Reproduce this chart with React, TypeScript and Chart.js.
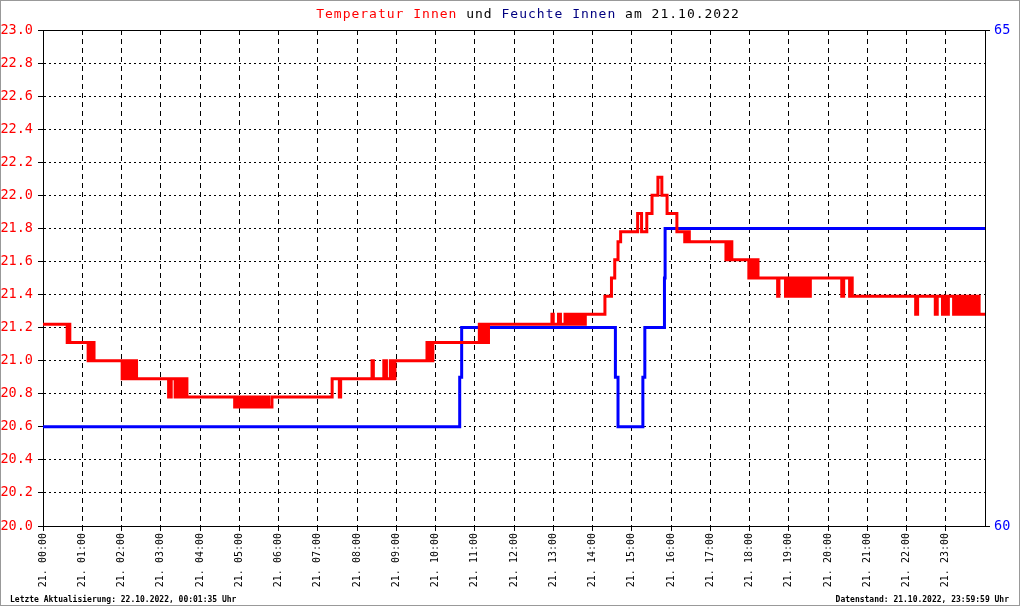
import { useEffect, useRef } from "react";
import { Chart, registerables } from "chart.js";

Chart.register(...registerables);

// ---- data ----
const DAY = "21.";
const HOURS = ["00","01","02","03","04","05","06","07","08","09","10","11","12","13","14","15","16","17","18","19","20","21","22","23"];

const tempTimes = [
  "00:00","00:37","00:39","00:41",
  "01:09","01:11","01:13","01:14","01:16","01:17","01:18",
  "02:01","02:03","02:06","02:07","02:09","02:10","02:13","02:14","02:15","02:17","02:18","02:20","02:23",
  "03:12","03:14","03:15","03:16","03:22","03:23","03:25","03:26","03:28","03:29","03:31","03:32","03:34","03:35","03:37","03:38","03:40",
  "04:53","04:55","04:56","04:59","05:00","05:03","05:04","05:07","05:08","05:12","05:13","05:16","05:17","05:21","05:22","05:25","05:26","05:29","05:31","05:35","05:36","05:40","05:41","05:44","05:45","05:50",
  "07:22","07:33","07:35",
  "08:23","08:25","08:41","08:42","08:44","08:45","08:51","08:53","08:54","08:56","08:58",
  "09:47","09:48","09:50","09:51","09:53","09:54","09:56",
  "11:07","11:08","11:10","11:11","11:13","11:14","11:16","11:17","11:19","11:20","11:21",
  "12:58","13:00","13:08","13:11","13:18","13:20","13:21","13:23","13:25","13:27","13:28","13:30","13:32","13:34","13:35","13:37","13:39","13:40","13:42","13:44","13:45","13:47","13:49",
  "14:19","14:29","14:34","14:39","14:43",
  "15:09","15:15","15:23","15:31","15:40","15:46","15:54",
  "16:09","16:21","16:23","16:24","16:26","16:28",
  "17:24","17:26","17:27","17:29","17:30","17:32","17:33",
  "17:59","18:01","18:03","18:05","18:06","18:08","18:10","18:11","18:13",
  "18:43","18:45","18:55","18:57","18:58","19:00","19:01","19:03","19:05","19:08","19:09","19:11","19:12","19:14","19:15","19:17","19:20","19:22","19:23","19:25","19:27","19:29","19:30","19:33",
  "20:21","20:24","20:33","20:35","20:37",
  "22:14","22:17","22:44","22:47","22:55","22:57","23:01","23:04",
  "23:12","23:14","23:15","23:17","23:18","23:20","23:21","23:23","23:24","23:26","23:27","23:29","23:30","23:32","23:33","23:35","23:36","23:38","23:39","23:41","23:42","23:44","23:45","23:47","23:48","23:50","23:51",
  "24:00",
];

const tempValues = [
  21.22,21.11,21.22,21.11,
  21.0,21.11,21.0,21.11,21.0,21.11,21.0,
  20.89,21.0,20.89,21.0,20.89,21.0,20.89,21.0,20.89,21.0,20.89,21.0,20.89,
  20.78,20.89,20.78,20.89,20.78,20.89,20.78,20.89,20.78,20.89,20.78,20.89,20.78,20.89,20.78,20.89,20.78,
  20.72,20.78,20.72,20.78,20.72,20.78,20.72,20.78,20.72,20.78,20.72,20.78,20.72,20.78,20.72,20.78,20.72,20.78,20.72,20.78,20.72,20.78,20.72,20.78,20.72,20.78,
  20.89,20.78,20.89,
  21.0,20.89,21.0,20.89,21.0,20.89,21.0,20.89,21.0,20.89,21.0,
  21.11,21.0,21.11,21.0,21.11,21.0,21.11,
  21.22,21.11,21.22,21.11,21.22,21.11,21.22,21.11,21.22,21.11,21.22,
  21.28,21.22,21.28,21.22,21.28,21.22,21.28,21.22,21.28,21.22,21.28,21.22,21.28,21.22,21.28,21.22,21.28,21.22,21.28,21.22,21.28,21.22,21.28,
  21.39,21.5,21.61,21.72,21.78,
  21.89,21.78,21.89,22.0,22.11,22.0,21.89,
  21.78,21.72,21.78,21.72,21.78,21.72,
  21.61,21.72,21.61,21.72,21.61,21.72,21.61,
  21.5,21.61,21.5,21.61,21.5,21.61,21.5,21.61,21.5,
  21.39,21.5,21.39,21.5,21.39,21.5,21.39,21.5,21.39,21.5,21.39,21.5,21.39,21.5,21.39,21.5,21.39,21.5,21.39,21.5,21.39,21.5,21.39,21.5,
  21.39,21.5,21.39,21.5,21.39,
  21.28,21.39,21.28,21.39,21.28,21.39,21.28,21.39,
  21.28,21.39,21.28,21.39,21.28,21.39,21.28,21.39,21.28,21.39,21.28,21.39,21.28,21.39,21.28,21.39,21.28,21.39,21.28,21.39,21.28,21.39,21.28,21.39,21.28,21.39,21.28,
  21.28,
];

const humTimes = ["00:00","10:37","10:40","14:35","14:39","15:17","15:20","15:50","15:51","24:00"];
const humValues = [61, 61.5, 62, 61.5, 61, 61.5, 62, 62.5, 63, 63];

const TEMP_TICKS = { min: 20, max: 23, step: 0.2 };
const HUM_TICKS = { min: 60, max: 65, step: 5 };

const TITLE_PARTS = [
  { text: "Temperatur Innen", color: "#ff0000" },
  { text: " und ", color: "#000000" },
  { text: "Feuchte Innen", color: "#000080" },
  { text: " am 21.10.2022", color: "#000000" },
];
const FOOT_LEFT = "Letzte Aktualisierung: 22.10.2022, 00:01:35 Uhr";
const FOOT_RIGHT = "Datenstand: 21.10.2022, 23:59:59 Uhr";

const MONO = "'DejaVu Sans Mono', 'Liberation Mono', monospace";

function toMin(s: string): number {
  const [h, m] = s.split(":").map(Number);
  return h * 60 + m;
}

const decorPlugin = {
  id: "decor",
  afterDraw(chart: any) {
    const ctx: CanvasRenderingContext2D = chart.ctx;
    const a = chart.chartArea;
    ctx.save();
    // top frame line of plot
    ctx.strokeStyle = "#000";
    ctx.lineWidth = 1;
    ctx.setLineDash([]);
    ctx.beginPath();
    ctx.moveTo(Math.round(a.left), Math.round(a.top) + 0.5);
    ctx.lineTo(Math.round(a.right) + 1, Math.round(a.top) + 0.5);
    ctx.stroke();
    // outer gray frame
    ctx.strokeStyle = "#999999";
    ctx.strokeRect(0.5, 0.5, chart.width - 1, chart.height - 1);
    // title
    ctx.font = `13px ${MONO}`;
    (ctx as any).letterSpacing = "1px";
    ctx.textAlign = "left";
    ctx.textBaseline = "alphabetic";
    let total = 0;
    for (const p of TITLE_PARTS) total += ctx.measureText(p.text).width;
    let x = 528 - total / 2;
    for (const p of TITLE_PARTS) {
      ctx.fillStyle = p.color;
      ctx.fillText(p.text, x, 18);
      x += ctx.measureText(p.text).width;
    }
    // footer
    (ctx as any).letterSpacing = "0px";
    ctx.font = `bold 8px ${MONO}`;
    ctx.fillStyle = "#000";
    ctx.textAlign = "left";
    ctx.fillText(FOOT_LEFT, 10, 602);
    ctx.textAlign = "right";
    ctx.fillText(FOOT_RIGHT, 1009, 602);
    ctx.restore();
  },
};

export default function App() {
  const ref = useRef<HTMLCanvasElement | null>(null);

  useEffect(() => {
    document.body.style.margin = "0";
    const canvas = ref.current;
    if (!canvas) return;
    const chart = new Chart(canvas, {
      type: "line",
      data: {
        datasets: [
          {
            label: "Temperatur Innen",
            data: tempTimes.map((t, i) => ({ x: toMin(t), y: tempValues[i] })),
            borderColor: "#ff0000",
            backgroundColor: "#ff0000",
            borderWidth: 3,
            stepped: true,
            pointRadius: 0,
            fill: false,
            yAxisID: "y",
          },
          {
            label: "Feuchte Innen",
            data: humTimes.map((t, i) => ({ x: toMin(t), y: humValues[i] })),
            borderColor: "#0000ff",
            backgroundColor: "#0000ff",
            borderWidth: 3,
            stepped: true,
            pointRadius: 0,
            fill: false,
            yAxisID: "y1",
          },
        ],
      },
      options: {
        responsive: false,
        animation: false,
        devicePixelRatio: 1,
        events: [],
        layout: { padding: { top: 30, left: 0, right: 0, bottom: 0 } },
        plugins: {
          legend: { display: false },
          title: { display: false },
          tooltip: { enabled: false },
        },
        scales: {
          x: {
            type: "linear",
            min: 0,
            max: 1440,
            afterFit: (s: any) => { s.height = 80; },
            afterBuildTicks: (s: any) => { s.ticks = s.ticks.filter((t: any) => t.value < 1440); },
            ticks: {
              stepSize: 60,
              autoSkip: false,
              minRotation: 90,
              maxRotation: 90,
              padding: 2,
              color: "#000",
              font: { family: MONO, size: 10 },
              callback: (v: any) => {
                const h = Math.round(Number(v) / 60);
                return h < 24 ? `${DAY} ${HOURS[h]}:00` : "";
              },
            },
            grid: { color: "#000", lineWidth: 1, tickLength: 5, tickColor: "#000" },
            border: { color: "#000", dash: [5, 4] },
          },
          y: {
            position: "left",
            min: TEMP_TICKS.min,
            max: TEMP_TICKS.max,
            afterFit: (s: any) => { s.width = 43; },
            ticks: {
              stepSize: TEMP_TICKS.step,
              color: "#ff0000",
              padding: 5,
              font: { family: MONO, size: 13.5 },
              callback: (v: any) => Number(v).toFixed(1),
            },
            grid: { color: "#000", lineWidth: 1, tickLength: 5, tickColor: "#000" },
            border: { color: "#000", dash: [2, 3] },
          },
          y1: {
            position: "right",
            min: HUM_TICKS.min,
            max: HUM_TICKS.max,
            afterFit: (s: any) => { s.width = 35; },
            ticks: {
              stepSize: HUM_TICKS.step,
              color: "#0000ff",
              padding: 4,
              font: { family: MONO, size: 13.5 },
            },
            grid: { drawOnChartArea: false, color: "#000", tickLength: 5, tickColor: "#000" },
            border: { color: "#000" },
          },
        },
      },
      plugins: [decorPlugin],
    } as any);
    return () => chart.destroy();
  }, []);

  return (
    <div style={{ width: 1020, height: 606, background: "#fff" }}>
      <canvas ref={ref} width={1020} height={606} style={{ display: "block" }} />
    </div>
  );
}
